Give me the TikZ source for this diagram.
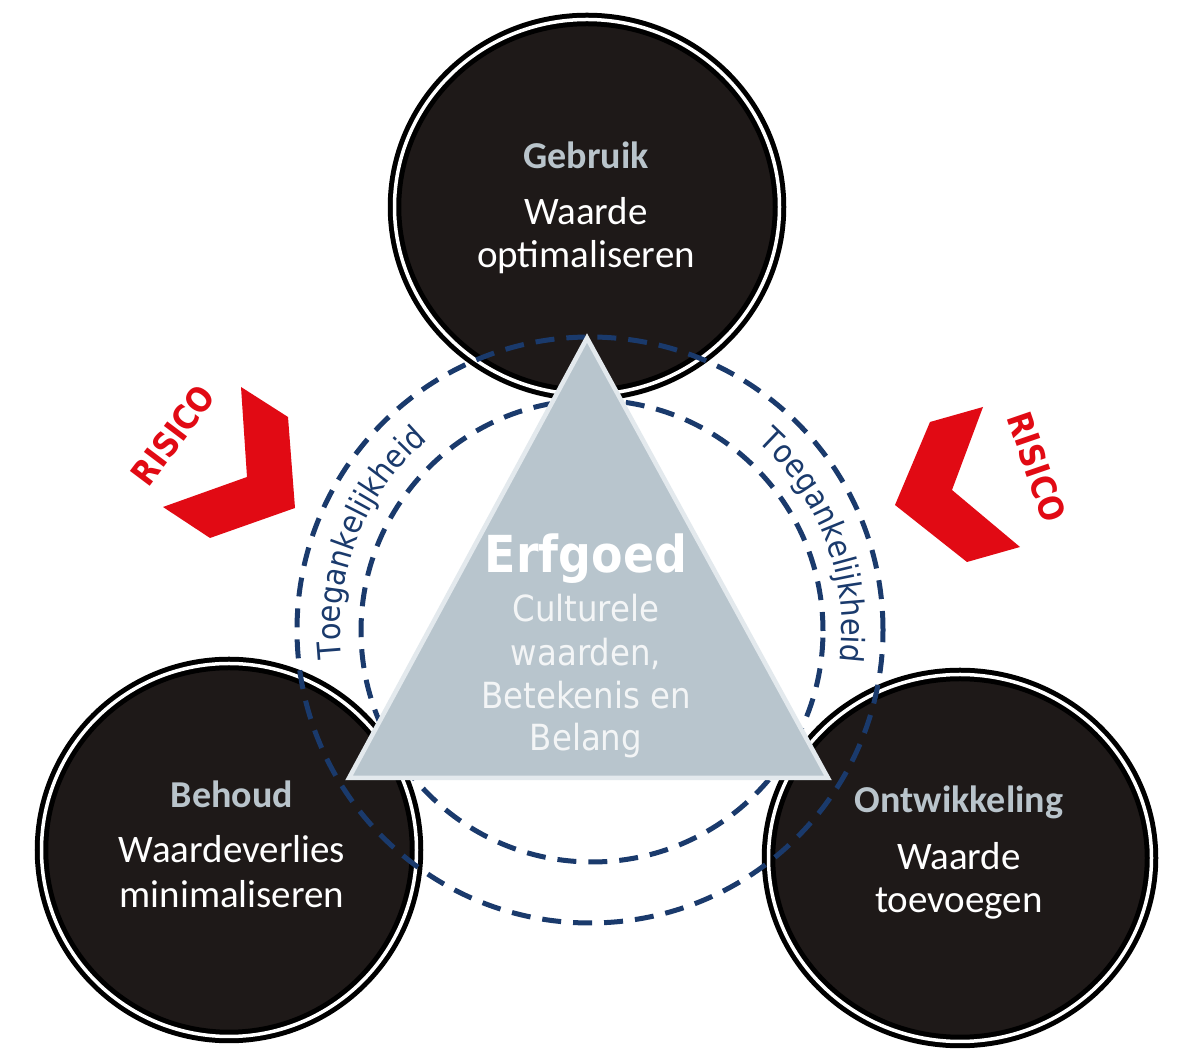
\documentclass[tikz,border=0pt]{standalone}
\usepackage{fontspec}
\setmainfont{Carlito}
\newfontfamily\tfont{DejaVu Sans}[FakeStretch=0.9]
\newfontfamily\rfont{DejaVu Sans Bold}[FakeStretch=0.88]
\usetikzlibrary{shapes.geometric,decorations.text,calc}
\definecolor{cfill}{HTML}{1E1918}
\definecolor{ctitle}{HTML}{B9C4CB}
\definecolor{navy}{HTML}{1A3A6C}
\definecolor{tri}{HTML}{B8C5CD}
\definecolor{triedge}{HTML}{E3E9ED}
\definecolor{risk}{HTML}{E10A14}
\definecolor{tritext}{HTML}{F3F5F6}
\begin{document}
\begin{tikzpicture}[x=1pt,y=1pt,
  disc/.style={ellipse, inner sep=0pt, outer sep=0pt, fill=cfill, draw=black,
    line width=5pt, double=white, double distance=3.5pt},
  ctit/.style={anchor=base, inner sep=0pt, text=ctitle, font=\bfseries\fontsize{38}{38}\selectfont},
  cbody/.style={anchor=base, inner sep=0pt, text=white, font=\fontsize{39}{39}\selectfont},
  ring/.style={draw=navy, line width=5pt, dash pattern=on 19pt off 12pt},
  tbody/.style={anchor=base, inner sep=0pt, text=tritext, font=\tfont\fontsize{36}{36}\selectfont},
  risico/.style={inner sep=0pt, text=risk, font=\rfont\fontsize{34}{34}\selectfont},
  chevron/.style={fill=risk, draw=none},
  tgtext/.style={decorate, decoration={text along path, text align=center,
    text color=navy, text={|\tfont\fontsize{32}{32}\selectfont|Toegankelijkheid}}}
]
\useasboundingbox (0,0) rectangle (1200,1054);
\fill[white] (0,0) rectangle (1200,1054);

% black discs
\node[disc, minimum width=385pt, minimum height=375pt] (geb) at (587,847) {};
\node[disc, minimum width=375pt, minimum height=373pt] (beh) at (229,204) {};
\node[disc, minimum width=383pt, minimum height=367pt] (ont) at (960,196) {};

% dashed rings
\coordinate (rc) at (590,424);
\draw[ring] (rc) circle[radius=293];
\draw[ring] ($(rc)+(2,-1)$) circle[radius=231];

% triangle
\coordinate (tA) at (587,716);
\coordinate (tB) at (349,276);
\coordinate (tC) at (828,276);
\filldraw[fill=tri, draw=triedge, line width=4.5pt, line join=miter] (tA) -- (tB) -- (tC) -- cycle;

% circle texts
\node[ctit]  (geb1) at (586,885) {Gebruik};
\node[cbody] (geb2) at (586,829) {Waarde};
\node[cbody] (geb3) at (586,786) {optimaliseren};

\node[ctit]  (beh1) at (232,246) {Behoud};
\node[cbody] (beh2) at (232,191) {Waardeverlies};
\node[cbody] (beh3) at (232,146) {minimaliseren};

\node[ctit]  (ont1) at (959,241) {Ontwikkeling};
\node[cbody] (ont2) at (959,184) {Waarde};
\node[cbody] (ont3) at (959,141) {toevoegen};

% triangle texts
\node[anchor=base, inner sep=0pt, text=white, font=\tfont\bfseries\fontsize{51}{51}\selectfont] (erf) at (586,481) {Erfgoed};
\node[tbody] (tr1) at (586,432) {Culturele};
\node[tbody] (tr2) at (586,388) {waarden,};
\node[tbody] (tr3) at (586,345) {Betekenis en};
\node[tbody] (tr4) at (586,303) {Belang};

% Toegankelijkheid along arcs
\path[tgtext] ($(rc)+(188:250)$) arc[start angle=188, end angle=129, radius=250];
\path[tgtext] ($(rc)+(50:252)$) arc[start angle=50, end angle=-9, radius=252];

% chevrons
\fill[chevron] (241,667) -- (288,637) -- (295,546) -- (210,516) -- (163,547) -- (247,577) -- cycle;
\fill[chevron] (983,647) -- (930,632) -- (895,549) -- (967,492) -- (1020,507) -- (952,564) -- cycle;

\node[risico, rotate=53] (risL) at (173,619) {RISICO};
\node[risico, rotate=-71] (risR) at (1037,587) {RISICO};
\end{tikzpicture}
\end{document}
